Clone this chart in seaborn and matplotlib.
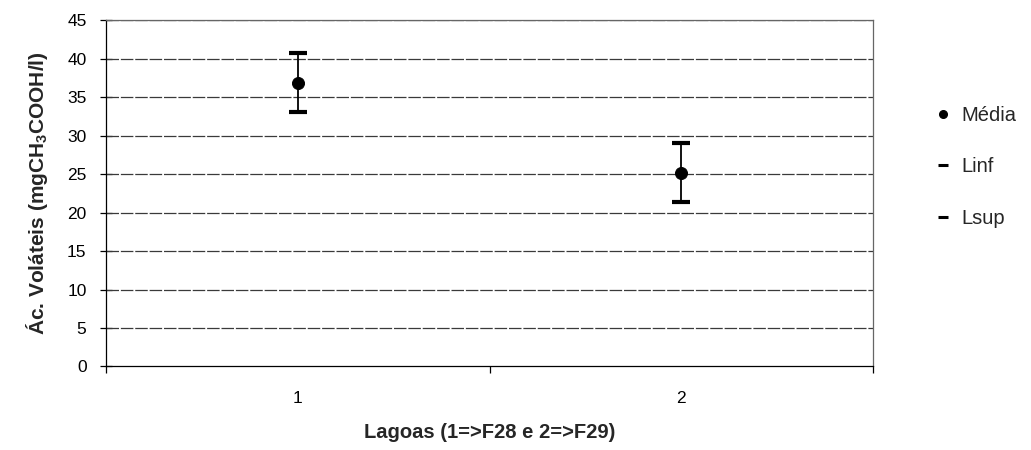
import matplotlib
matplotlib.use("Agg")
import matplotlib.pyplot as plt
import seaborn as sns
import pandas as pd
from matplotlib.lines import Line2D
from matplotlib.ticker import FixedLocator

lagoas = [1, 2]
media = [36.9, 25.2]
linf = [33.1, 21.4]
lsup = [40.7, 29.0]
yticks = [0, 5, 10, 15, 20, 25, 30, 35, 40, 45]

sns.set_theme(style="white")
plt.rcParams['font.family'] = ['Liberation Sans', 'DejaVu Sans']
plt.rcParams['mathtext.fontset'] = 'custom'
plt.rcParams['mathtext.rm'] = 'Liberation Sans:bold'
plt.rcParams['mathtext.it'] = 'Liberation Sans:bold'
plt.rcParams['mathtext.bf'] = 'Liberation Sans:bold'

df = pd.DataFrame({"Lagoa": lagoas, "Média": media, "Linf": linf, "Lsup": lsup})

fig = plt.figure(figsize=(10.31, 4.5), dpi=100)
ax = fig.add_axes([0.1028, 0.1856, 0.744, 0.769])

# gridlines
for y in yticks[1:]:
    ax.axhline(y, color="#3a3a3a", lw=0.9, ls=(0, (10, 1.5)), zorder=1)

# high-low lines
ax.vlines(df["Lagoa"], df["Linf"], df["Lsup"], color="black", lw=1.3, zorder=2)
sns.scatterplot(data=df, x="Lagoa", y="Linf", marker="_", s=150, color="black",
                linewidth=3, ax=ax, zorder=3)
sns.scatterplot(data=df, x="Lagoa", y="Lsup", marker="_", s=150, color="black",
                linewidth=3, ax=ax, zorder=3)
sns.scatterplot(data=df, x="Lagoa", y="Média", marker="o", s=75, color="black",
                edgecolor="black", ax=ax, zorder=4)

ax.set_xlim(0.5, 2.5)
ax.set_ylim(0, 45)
ax.set_yticks(yticks)
ax.set_xticks(lagoas)
ax.set_xticklabels([str(v) for v in lagoas])
ax.xaxis.set_minor_locator(FixedLocator([0.5, 1.5, 2.5]))
ax.tick_params(axis="x", which="major", length=0, pad=18, labelsize=12.5, colors="black")
ax.tick_params(axis="x", which="minor", length=5, width=0.9, direction="out", bottom=True, color="black")
ax.tick_params(axis="y", which="major", length=8, width=0.9, direction="inout", left=True,
               labelsize=12.5, pad=10, colors="black")

for side, sp in ax.spines.items():
    sp.set_visible(True)
    sp.set_color("#666666")
    sp.set_linewidth(0.9)
    if side in ("top", "right"):
        sp.set_linestyle((0, (2, 1)))
ax.spines["bottom"].set_color("black")
ax.spines["left"].set_color("black")

ax.set_xlabel("Lagoas (1=>F28 e 2=>F29)", fontsize=14.5, fontweight="bold", labelpad=12)
ax.set_ylabel(r"Ác. Voláteis (mgCH$_3$COOH/l)", fontsize=15, fontweight="bold", labelpad=12)

handles = [
    Line2D([], [], marker="o", ls="none", color="black", markersize=5.5),
    Line2D([], [], marker="_", ls="none", color="black", markersize=7, markeredgewidth=2.2),
    Line2D([], [], marker="_", ls="none", color="black", markersize=7, markeredgewidth=2.2),
]
fig.legend(handles, ["Média", "Linf", "Lsup"], loc="center left",
           bbox_to_anchor=(0.899, 0.629), frameon=False, fontsize=14.5,
           borderpad=0, handlelength=0.6, handletextpad=0.6, labelspacing=1.6)

fig.savefig("out.png", dpi=100)
